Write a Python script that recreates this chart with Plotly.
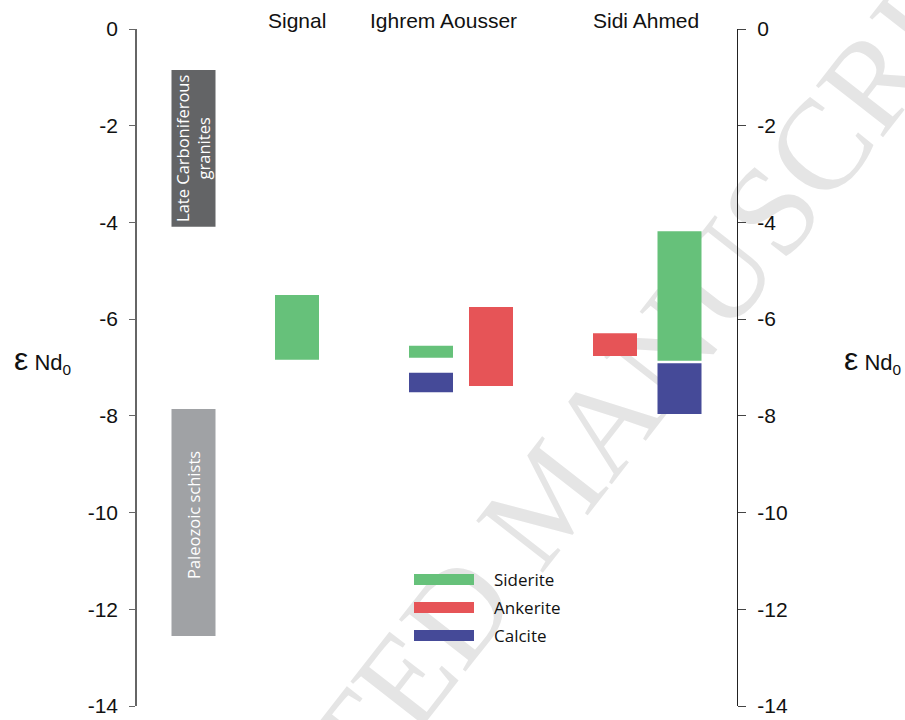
import plotly.graph_objects as go

# --- data: εNd0 ranges (top, bottom) per site and mineral ---
sites = ["Signal", "Ighrem Aousser", "Sidi Ahmed"]

siderite_sites = ["Signal", "Ighrem Aousser", "Sidi Ahmed"]
siderite_top = [-5.50, -6.55, -4.18]
siderite_bottom = [-6.84, -6.80, -6.86]

ankerite_sites = ["Ighrem Aousser", "Sidi Ahmed"]
ankerite_top = [-5.75, -6.29]
ankerite_bottom = [-7.38, -6.76]

calcite_sites = ["Ighrem Aousser", "Sidi Ahmed"]
calcite_top = [-7.11, -6.91]
calcite_bottom = [-7.51, -7.96]

# reference rock reservoirs
rock_names = ["Late Carboniferous<br>granites", "Paleozoic schists"]
rock_top = [-0.85, -7.86]
rock_bottom = [-4.09, -12.55]

y_ticks = [0, -2, -4, -6, -8, -10, -12, -14]
y_tick_text = ["0", "-2", "-4", "-6", "-8", "-10", "-12", "-14"]

# --- layout helpers (horizontal slots on a hidden 0-12 axis) ---
rock_x = 1.13
site_label_x = {"Signal": 3.2, "Ighrem Aousser": 6.12, "Sidi Ahmed": 10.18}
mineral_x = {
    "siderite": {"Signal": 3.2, "Ighrem Aousser": 5.88, "Sidi Ahmed": 10.85},
    "ankerite": {"Ighrem Aousser": 7.08, "Sidi Ahmed": 9.56},
    "calcite": {"Ighrem Aousser": 5.88, "Sidi Ahmed": 10.85},
}
bar_w = 0.88

colors = {"siderite": "#66C17A", "ankerite": "#E65457", "calcite": "#454A98"}
rock_colors = ["#636466", "#A0A2A5"]

sans = "Liberation Sans, Arial, sans-serif"
body = "Open Sans, sans-serif"

fig = go.Figure()

# rock reservoir bars
fig.add_trace(go.Bar(
    x=[rock_x, rock_x],
    base=rock_top,
    y=[b - t for t, b in zip(rock_top, rock_bottom)],
    width=bar_w,
    marker=dict(color=rock_colors, line=dict(width=0)),
    showlegend=False, hoverinfo="skip",
))

for name, s_list, tops, bots in [
    ("siderite", siderite_sites, siderite_top, siderite_bottom),
    ("ankerite", ankerite_sites, ankerite_top, ankerite_bottom),
    ("calcite", calcite_sites, calcite_top, calcite_bottom),
]:
    fig.add_trace(go.Bar(
        x=[mineral_x[name][s] for s in s_list],
        base=tops,
        y=[b - t for t, b in zip(tops, bots)],
        width=bar_w,
        marker=dict(color=colors[name], line=dict(width=0)),
        name=name.capitalize(),
        showlegend=False, hoverinfo="skip",
    ))

# invisible trace to carry the right-hand axis
fig.add_trace(go.Scatter(x=[None], y=[None], yaxis="y2", showlegend=False))

annotations = []

# labels inside the rock bars
for name, t, b, shift in zip(rock_names, rock_top, rock_bottom, [0, 7]):
    annotations.append(dict(
        x=rock_x, y=(t + b) / 2, xref="x", yref="y", text=name,
        textangle=-90, showarrow=False, yshift=shift,
        font=dict(family=body, size=16.5, color="white"),
    ))

# site headers
for s in sites:
    annotations.append(dict(
        x=site_label_x[s], y=1, xref="x", yref="paper", text=s,
        showarrow=False, yanchor="bottom", yshift=-5,
        font=dict(family=sans, size=21, color="#111111"),
    ))

# axis titles (εNd0) on both sides
eps_title = "<span style='font-size:32px'>ε</span> Nd<sub>0</sub>"
for xp in [-0.158, 1.225]:
    annotations.append(dict(
        x=xp, y=0.512, xref="paper", yref="paper", text=eps_title,
        showarrow=False, xanchor="center", yanchor="middle",
        font=dict(family=sans, size=22, color="#111111"),
    ))

# legend: wide swatches drawn as shapes, labels as annotations
legend_items = [("Siderite", colors["siderite"]),
                ("Ankerite", colors["ankerite"]),
                ("Calcite", colors["calcite"])]
shapes = []
W, H = 600.0, 677.0
for i, (lab, col) in enumerate(legend_items):
    cy = 579.5 + 28 * i
    shapes.append(dict(
        type="rect", xref="paper", yref="paper",
        x0=(414 - 137) / W, x1=(474 - 137) / W,
        y0=(706 - (cy + 5.5)) / H, y1=(706 - (cy - 5.5)) / H,
        fillcolor=col, line=dict(width=0), layer="above",
    ))
    annotations.append(dict(
        x=(492 - 137) / W, y=(706 - cy) / H, xref="paper", yref="paper",
        text=lab, showarrow=False, xanchor="left", yanchor="middle",
        font=dict(family=body, size=17, color="#111111"),
    ))

# faint diagonal watermark behind the data
wx, wy = (536 - 137) / W, (706 - 488) / H
shapes.append(dict(
    type="rect", xref="paper", yref="paper",
    x0=wx - 0.001, x1=wx + 0.001, y0=wy - 0.001, y1=wy + 0.001,
    line=dict(width=0), fillcolor="rgba(0,0,0,0)", layer="below",
    label=dict(text="ACCEPTED MANUSCRIPT", textangle=-52,
               textposition="middle center",
               font=dict(family="Liberation Serif, Times New Roman, serif",
                         size=129, color="#E5E5E5")),
))

axis_common = dict(
    range=[-14, 0], tickvals=y_ticks, ticktext=y_tick_text, ticks="outside",
    showgrid=False, zeroline=False, showline=True, automargin=False,
    tickfont=dict(family=sans, size=21, color="#111111"),
)

fig.update_layout(
    width=905, height=720,
    margin=dict(l=137, r=168, t=29, b=14, autoexpand=False),
    paper_bgcolor="white", plot_bgcolor="white",
    barmode="overlay", showlegend=False,
    xaxis=dict(range=[0, 12], visible=False, fixedrange=True,
               automargin=False),
    yaxis=dict(**axis_common, side="left", linecolor="#666666",
               linewidth=1.5, tickcolor="#666666", ticklen=6,
               ticklabelstandoff=7),
    yaxis2=dict(**axis_common, side="right", overlaying="y",
                linecolor="#222222", linewidth=1.2, tickcolor="#444444",
                ticklen=8, ticklabelstandoff=7),
    annotations=annotations,
    shapes=shapes,
)

fig.write_html("out.html")
